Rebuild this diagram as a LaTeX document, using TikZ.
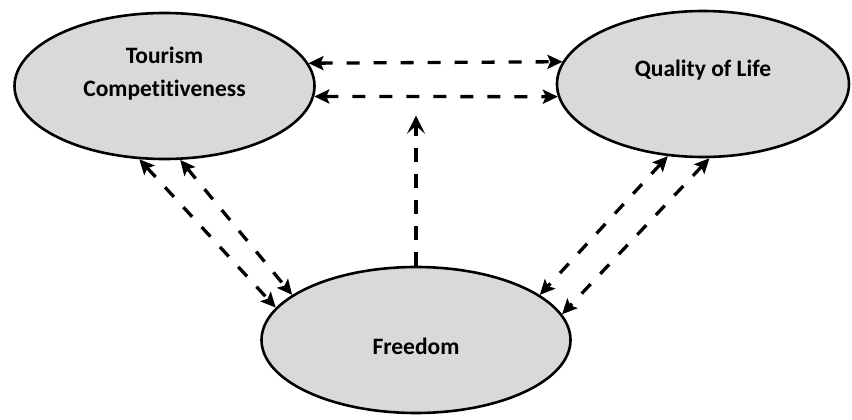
\documentclass[tikz,border=0pt]{standalone}
\usepackage{fontspec}
\setmainfont{Carlito}[Ligatures=NoCommon]
\usetikzlibrary{positioning, arrows.meta, shapes.geometric}
\tikzset{
    greynode/.style={
        ellipse,
        draw=black,
        fill=black!15, % light grey fill
        line width=2.6pt, % outline
        inner sep=0
    },
    nodetext/.style={
        font=\fontsize{23.5}{33}\selectfont\bfseries,
        align=center
    },
    dasharrow/.style={
        {Stealth[length=15pt,width=14pt,inset=3pt]}-{Stealth[length=15pt,width=14pt,inset=3pt]},
        line width=3.3pt,
        dash pattern=on 13pt off 14pt
    },
    uparrow/.style={
        -{Stealth[length=18pt,width=18pt,inset=8pt]},
        line width=3.3pt,
        dash pattern=on 14pt off 12pt
    }
}

\begin{document}
\begin{tikzpicture}[x=1pt, y=-1pt]
    \useasboundingbox (0,0) rectangle (852,420);
    % the three factors
    \node[greynode, minimum width=300pt, minimum height=146pt,
          label={[nodetext, yshift=12.5pt]center:Tourism\\Competitiveness}] (tc) at (164.5,86) {};
    \node[greynode, minimum width=292pt, minimum height=146pt,
          label={[nodetext, yshift=14pt]center:Quality of Life}] (ql) at (703,84) {};
    \node[greynode, minimum width=309pt, minimum height=146pt,
          label={[nodetext, yshift=-6pt]center:Freedom}] (fr) at (416,340) {};
    \coordinate[above=150pt of fr.north] (frup);

    % top pair
    \draw[dasharrow] (tc.9.2) -- (ql.171.1);
    \draw[dasharrow] (tc.-4.9) -- (ql.185.9);
    % left pair
    \draw[dasharrow] (tc.251) -- (fr.167.8);
    \draw[dasharrow] (tc.282.8) -- (fr.160.1);
    % right pair
    \draw[dasharrow] (ql.244) -- (fr.20.2);
    \draw[dasharrow] (ql.275.1) -- (fr.10.6);
    % middle
    \draw[uparrow] (fr.north) -- (frup);
\end{tikzpicture}
\end{document}
